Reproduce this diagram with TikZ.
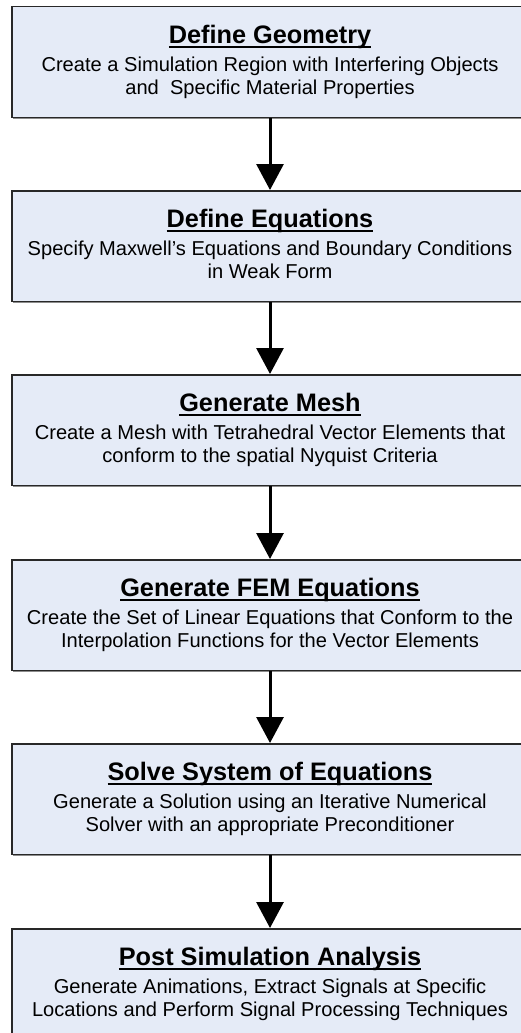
\documentclass[tikz,border=0pt]{standalone}
\usepackage{fontspec}
\setmainfont{Liberation Sans}
\usetikzlibrary{arrows.meta,shadows}
\definecolor{boxfill}{RGB}{229,235,247}
\definecolor{boxline}{RGB}{40,40,40}
\newsavebox{\myulbox}
\newcommand{\myul}[1]{\sbox{\myulbox}{#1}\rlap{\rule[-4.4pt]{\wd\myulbox}{1.8pt}}\usebox{\myulbox}}
\tikzset{
  stepbox/.style={draw=boxline, line width=1.5pt, fill=boxfill, rectangle,
    minimum width=516pt, minimum height=110.5pt, inner sep=0pt, anchor=north,
    drop shadow={shadow xshift=1pt, shadow yshift=-1.8pt, fill=black!45, opacity=1}},
  boxtitle/.style={anchor=base, inner sep=0pt, font=\fontsize{25.3}{30}\selectfont\bfseries},
  boxbody/.style={anchor=base, inner sep=0pt, font=\fontsize{20.1}{24}\selectfont},
  flow/.style={line width=3pt, -{Triangle[width=27pt,length=26pt]}},
}
\begin{document}
\begin{tikzpicture}[x=1pt,y=-1pt]
\useasboundingbox (0,0) rectangle (521,1033);
\clip (0,0) rectangle (521,1033);
\fill[white] (0,0) rectangle (521,1033);

% boxes
\node[stepbox] (b1) at (270,6) {};
\node[stepbox] (b2) at (270,190) {};
\node[stepbox] (b3) at (270,374) {};
\node[stepbox] (b4) at (270,559) {};
\node[stepbox] (b5) at (270,743) {};
\node[stepbox] (b6) at (270,928) {};

% texts
\node[boxtitle] (t1) at (270,43.5) {\myul{Define Geometry}};
\node[boxbody] (l1a) at (270,71) {Create a Simulation Region with Interfering Objects};
\node[boxbody] (l1b) at (270,94) {and~ Specific Material Properties};

\node[boxtitle] (t2) at (270,227.5) {\myul{Define Equations}};
\node[boxbody] (l2a) at (270,255) {Specify Maxwell’s Equations and Boundary Conditions};
\node[boxbody] (l2b) at (270,278) {in Weak Form};

\node[boxtitle] (t3) at (270,411.5) {\myul{Generate Mesh}};
\node[boxbody] (l3a) at (270,439) {Create a Mesh with Tetrahedral Vector Elements that};
\node[boxbody] (l3b) at (270,462) {conform to the spatial Nyquist Criteria};

\node[boxtitle] (t4) at (270,596.5) {\myul{Generate FEM Equations}};
\node[boxbody] (l4a) at (270,624) {Create the Set of Linear Equations that Conform to the};
\node[boxbody] (l4b) at (270,647) {Interpolation Functions for the Vector Elements};

\node[boxtitle] (t5) at (270,780.5) {\myul{Solve System of Equations}};
\node[boxbody] (l5a) at (270,808) {Generate a Solution using an Iterative Numerical};
\node[boxbody] (l5b) at (270,831) {Solver with an appropriate Preconditioner};

\node[boxtitle] (t6) at (270,965.5) {\myul{Post Simulation Analysis}};
\node[boxbody] (l6a) at (270,993) {Generate Animations, Extract Signals at Specific};
\node[boxbody] (l6b) at (270,1016) {Locations and Perform Signal Processing Techniques};

% arrows
\draw[flow] (b1.south) -- (b2.north);
\draw[flow] (b2.south) -- (b3.north);
\draw[flow] (b3.south) -- (b4.north);
\draw[flow] (b4.south) -- (b5.north);
\draw[flow] (b5.south) -- (b6.north);
\end{tikzpicture}
\end{document}
